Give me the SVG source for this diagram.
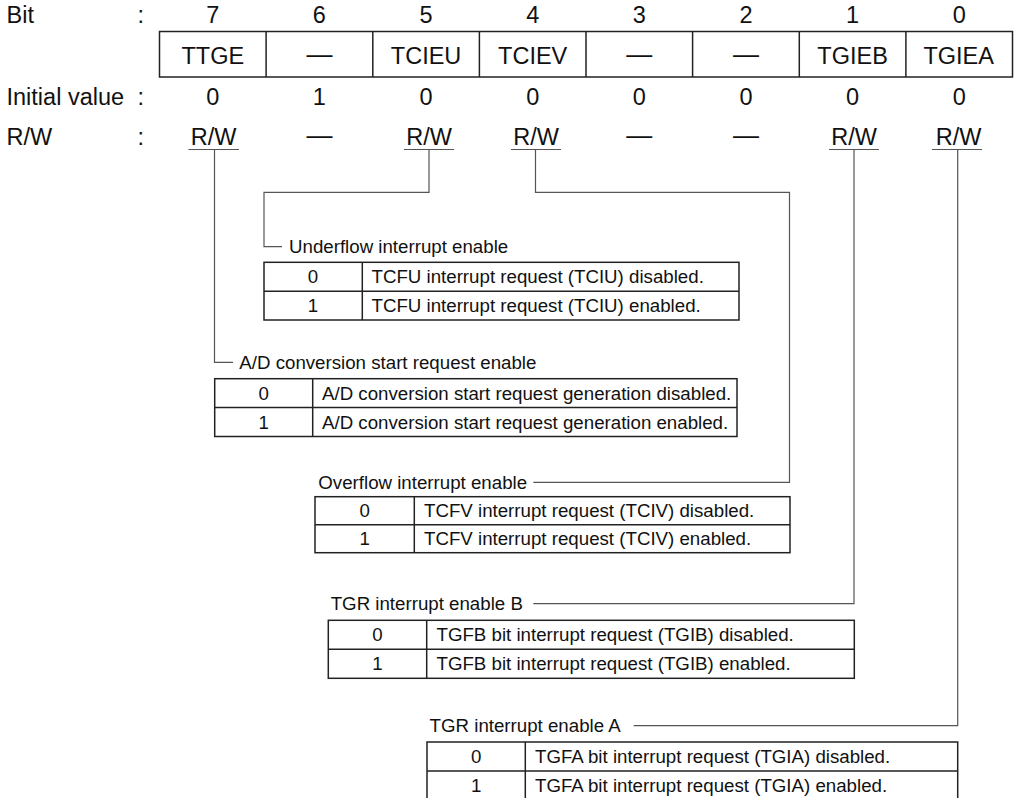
<svg xmlns="http://www.w3.org/2000/svg" width="1016" height="798" viewBox="0 0 1016 798">
<style>
text{font-family:"Liberation Sans",Arial,sans-serif;fill:#111}
.r{font-size:23.5px}
.m{text-anchor:middle}
.d{font-size:26px}
.t{font-size:18.7px}
.box{fill:none;stroke:#222;stroke-width:1.5}
.ln{fill:none;stroke:#555;stroke-width:1.2}
.ul{stroke:#555;stroke-width:1.2}
</style>
<rect width="1016" height="798" fill="#fff"/>
<g id="register">
<text class="r" x="6.5" y="22.5">Bit</text>
<text class="r" x="137.5" y="22.5">:</text>
<text class="r" x="6.5" y="105">Initial value</text>
<text class="r" x="137.5" y="105">:</text>
<text class="r" x="6.5" y="144.5">R/W</text>
<text class="r" x="137.5" y="144.5">:</text>
<g class="r m">
<text x="212.8" y="23">7</text><text x="319.4" y="23">6</text><text x="426.1" y="23">5</text><text x="532.7" y="23">4</text>
<text x="639.3" y="23">3</text><text x="746" y="23">2</text><text x="852.6" y="23">1</text><text x="959.2" y="23">0</text>
</g>
<rect class="box" x="159.5" y="31.5" width="853" height="45.5"/>
<path class="box" d="M266.1 31.5V77M372.8 31.5V77M479.4 31.5V77M586 31.5V77M692.6 31.5V77M799.3 31.5V77M905.9 31.5V77"/>
<g class="r m">
<text x="212.8" y="64">TTGE</text>
<text x="426.1" y="64">TCIEU</text><text x="532.7" y="64">TCIEV</text>
<text x="852.6" y="64">TGIEB</text><text x="958.7" y="64">TGIEA</text>
<text x="212.8" y="105">0</text><text x="319.4" y="105">1</text><text x="426.1" y="105">0</text><text x="532.7" y="105">0</text>
<text x="639.3" y="105">0</text><text x="746" y="105">0</text><text x="852.6" y="105">0</text><text x="959.2" y="105">0</text>
<text x="213.7" y="144.5">R/W</text><text x="429" y="144.5">R/W</text><text x="536" y="144.5">R/W</text>
<text x="854" y="144.5">R/W</text><text x="958.5" y="144.5">R/W</text>
</g>
<g class="d m">
<text x="319.4" y="63">—</text><text x="639.3" y="63">—</text><text x="746" y="63">—</text>
<text x="319.4" y="144">—</text><text x="639.3" y="144">—</text><text x="746" y="144">—</text>
</g>
<path class="ul" d="M188.5 149.5H239M404 149.5H454M511 149.5H561M829 149.5H879M932 149.5H982"/>
</g>
<g id="connectors">
<path class="ln" d="M214.5 149.5V362.3H233"/>
<path class="ln" d="M429 149.5V192.3H264V246.7H282"/>
<path class="ln" d="M535.5 149.5V192.3H789.5V482.3H533.3"/>
<path class="ln" d="M854 149.5V603.7H533.3"/>
<path class="ln" d="M957.7 149.5V725.7H633.7"/>
</g>
<g id="underflow">
<text class="t" x="289" y="253.3">Underflow interrupt enable</text>
<rect class="box" x="264" y="262.3" width="475" height="57.7"/>
<path class="box" d="M264 291.2H739M362.3 262.3V320"/>
<text class="t m" x="313" y="283.3">0</text>
<text class="t m" x="313" y="312.2">1</text>
<text class="t" x="371.5" y="283.3">TCFU interrupt request (TCIU) disabled.</text>
<text class="t" x="371.5" y="312.2">TCFU interrupt request (TCIU) enabled.</text>
</g>
<g id="ad">
<text class="t" x="239.3" y="369">A/D conversion start request enable</text>
<rect class="box" x="214.7" y="378.7" width="522.3" height="57.8"/>
<path class="box" d="M214.7 407.6H737M312.7 378.7V436.5"/>
<text class="t m" x="263.7" y="399.8">0</text>
<text class="t m" x="263.7" y="428.6">1</text>
<text class="t" x="322" y="399.8">A/D conversion start request generation disabled.</text>
<text class="t" x="322" y="428.6">A/D conversion start request generation enabled.</text>
</g>
<g id="overflow">
<text class="t" x="318.3" y="489">Overflow interrupt enable</text>
<rect class="box" x="315" y="496.7" width="475" height="56"/>
<path class="box" d="M315 524.7H790M414.3 496.7V552.7"/>
<text class="t m" x="364.6" y="517.3">0</text>
<text class="t m" x="364.6" y="545.3">1</text>
<text class="t" x="424" y="517.3">TCFV interrupt request (TCIV) disabled.</text>
<text class="t" x="424" y="545.3">TCFV interrupt request (TCIV) enabled.</text>
</g>
<g id="tgrb">
<text class="t" x="330.7" y="610.3">TGR interrupt enable B</text>
<rect class="box" x="328.3" y="620.3" width="526" height="58"/>
<path class="box" d="M328.3 649.3H854.3M426.7 620.3V678.3"/>
<text class="t m" x="377.5" y="641.4">0</text>
<text class="t m" x="377.5" y="670.4">1</text>
<text class="t" x="436.5" y="641.4">TGFB bit interrupt request (TGIB) disabled.</text>
<text class="t" x="436.5" y="670.4">TGFB bit interrupt request (TGIB) enabled.</text>
</g>
<g id="tgra">
<text class="t" x="429.6" y="732.3">TGR interrupt enable A</text>
<rect class="box" x="427" y="742" width="530.7" height="60"/>
<path class="box" d="M427 771H957.7M525.3 742V802"/>
<text class="t m" x="476.2" y="763.1">0</text>
<text class="t m" x="476.2" y="792">1</text>
<text class="t" x="535" y="763.1">TGFA bit interrupt request (TGIA) disabled.</text>
<text class="t" x="535" y="792">TGFA bit interrupt request (TGIA) enabled.</text>
</g>
</svg>
